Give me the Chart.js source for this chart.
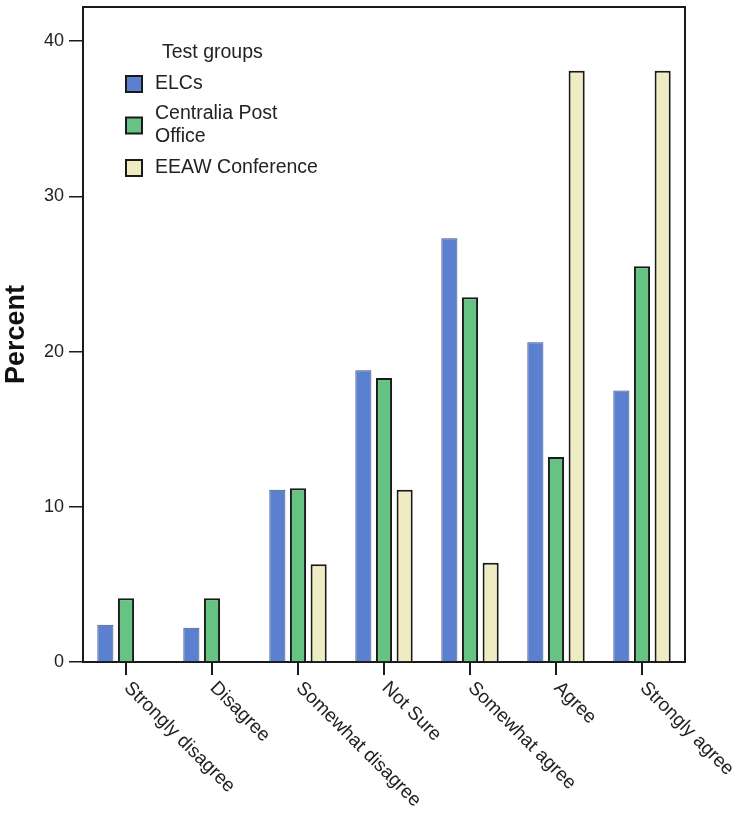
<!DOCTYPE html>
<html>
<head>
<meta charset="utf-8">
<script src="https://cdn.jsdelivr.net/npm/chart.js@4/dist/chart.umd.min.js"></script>
<style>
  html, body { margin: 0; padding: 0; background: #fff; }
  #wrap { width: 738px; height: 814px; }
</style>
</head>
<body>
<div id="wrap"><canvas id="bar-chart" width="738" height="814"></canvas></div>
<script>
// categories and values (percent)
const categories = ['Strongly disagree', 'Disagree', 'Somewhat disagree', 'Not Sure', 'Somewhat agree', 'Agree', 'Strongly agree'];
const groupNames = ['ELCs', 'Centralia Post Office', 'EEAW Conference'];
const elcs = [2.4, 2.2, 11.1, 18.8, 27.3, 20.6, 17.5];
const centralia = [4.1, 4.1, 11.2, 18.3, 23.5, 13.2, 25.5];
const eeaw = [0, 0, 6.3, 11.1, 6.4, 38.1, 38.1];
const yTicks = [0, 10, 20, 30, 40];

const FONT = '"Liberation Sans", Arial, Helvetica, sans-serif';
const fillColors = ['#5b80d0', '#66c383', '#efebc2'];
const edgeColors = ['#3d4f80', '#1a1a1a', '#1a1a1a'];

// box round the plot, rotated x labels and the legend inside the plot
const extras = {
    id: 'extras',
    afterDraw(chart) {
        const c = chart.ctx;
        const a = chart.chartArea;
        c.save();
        c.strokeStyle = '#1a1a1a';
        c.lineWidth = 2;
        c.beginPath();
        c.moveTo(a.left, a.top);
        c.lineTo(a.right, a.top);
        c.lineTo(a.right, a.bottom);
        c.stroke();

        // x labels: start at the tick and run down to the right
        const xs = chart.scales.x;
        c.fillStyle = '#222';
        c.font = '19px ' + FONT;
        c.textAlign = 'left';
        c.textBaseline = 'middle';
        categories.forEach((lab, i) => {
            const px = xs.getPixelForTick(i);
            c.save();
            c.translate(px + 1, a.bottom + 23);
            c.rotate(Math.PI / 4);
            c.fillText(lab, 0, 0);
            c.restore();
        });

        // legend
        c.font = '19.5px ' + FONT;
        c.fillStyle = '#222';
        c.fillText('Test groups', 162, 53);
        const rows = [[84], [114, 137], [168]];
        const lines = [['ELCs'], ['Centralia Post', 'Office'], ['EEAW Conference']];
        rows.forEach((ys, i) => {
            const mid = (ys[0] + ys[ys.length - 1]) / 2;
            c.fillStyle = fillColors[i];
            c.fillRect(126, mid - 8, 16, 16);
            c.lineWidth = 2;
            c.strokeStyle = '#1a1a1a';
            c.strokeRect(126, mid - 8, 16, 16);
            c.fillStyle = '#222';
            lines[i].forEach((t, k) => c.fillText(t, 155, ys[k]));
        });
        c.restore();
    }
};

const ctx = document.getElementById('bar-chart').getContext('2d');
const myChart = new Chart(ctx, {
    type: 'bar',
    data: {
        labels: categories,
        datasets: [elcs, centralia, eeaw].map((d, i) => ({
            label: groupNames[i],
            data: d,
            backgroundColor: fillColors[i],
            borderColor: edgeColors[i],
            borderWidth: i === 0 ? 1 : 2,
            borderSkipped: 'bottom',
            categoryPercentage: 0.72,
            barPercentage: 0.78
        }))
    },
    options: {
        responsive: false,
        animation: false,
        devicePixelRatio: 1,
        layout: { padding: { top: 7, right: 53, left: 0, bottom: 0 } },
        plugins: {
            legend: { display: false },
            tooltip: { enabled: false }
        },
        scales: {
            x: {
                grid: { drawOnChartArea: false, offset: false, color: '#1a1a1a', tickLength: 13, lineWidth: 2 },
                border: { color: '#1a1a1a', width: 2 },
                ticks: { display: false },
                afterFit: s => { s.height = 152; }
            },
            y: {
                min: 0,
                max: 42.2,
                afterBuildTicks: s => { s.ticks = yTicks.map(v => ({ value: v })); },
                grid: { drawOnChartArea: false, color: '#1a1a1a', tickLength: 14, lineWidth: 1.5 },
                border: { color: '#1a1a1a', width: 2 },
                ticks: { color: '#222', font: { family: FONT, size: 18 }, padding: 5 },
                title: { display: true, text: 'Percent', color: '#111', font: { family: FONT, size: 27, weight: 'bold' }, padding: { top: 0, bottom: 0 } },
                afterFit: s => { s.width = 83; s.paddingTop = 0; s.paddingBottom = 0; }
            }
        }
    },
    plugins: [extras]
});
</script>
</body>
</html>
